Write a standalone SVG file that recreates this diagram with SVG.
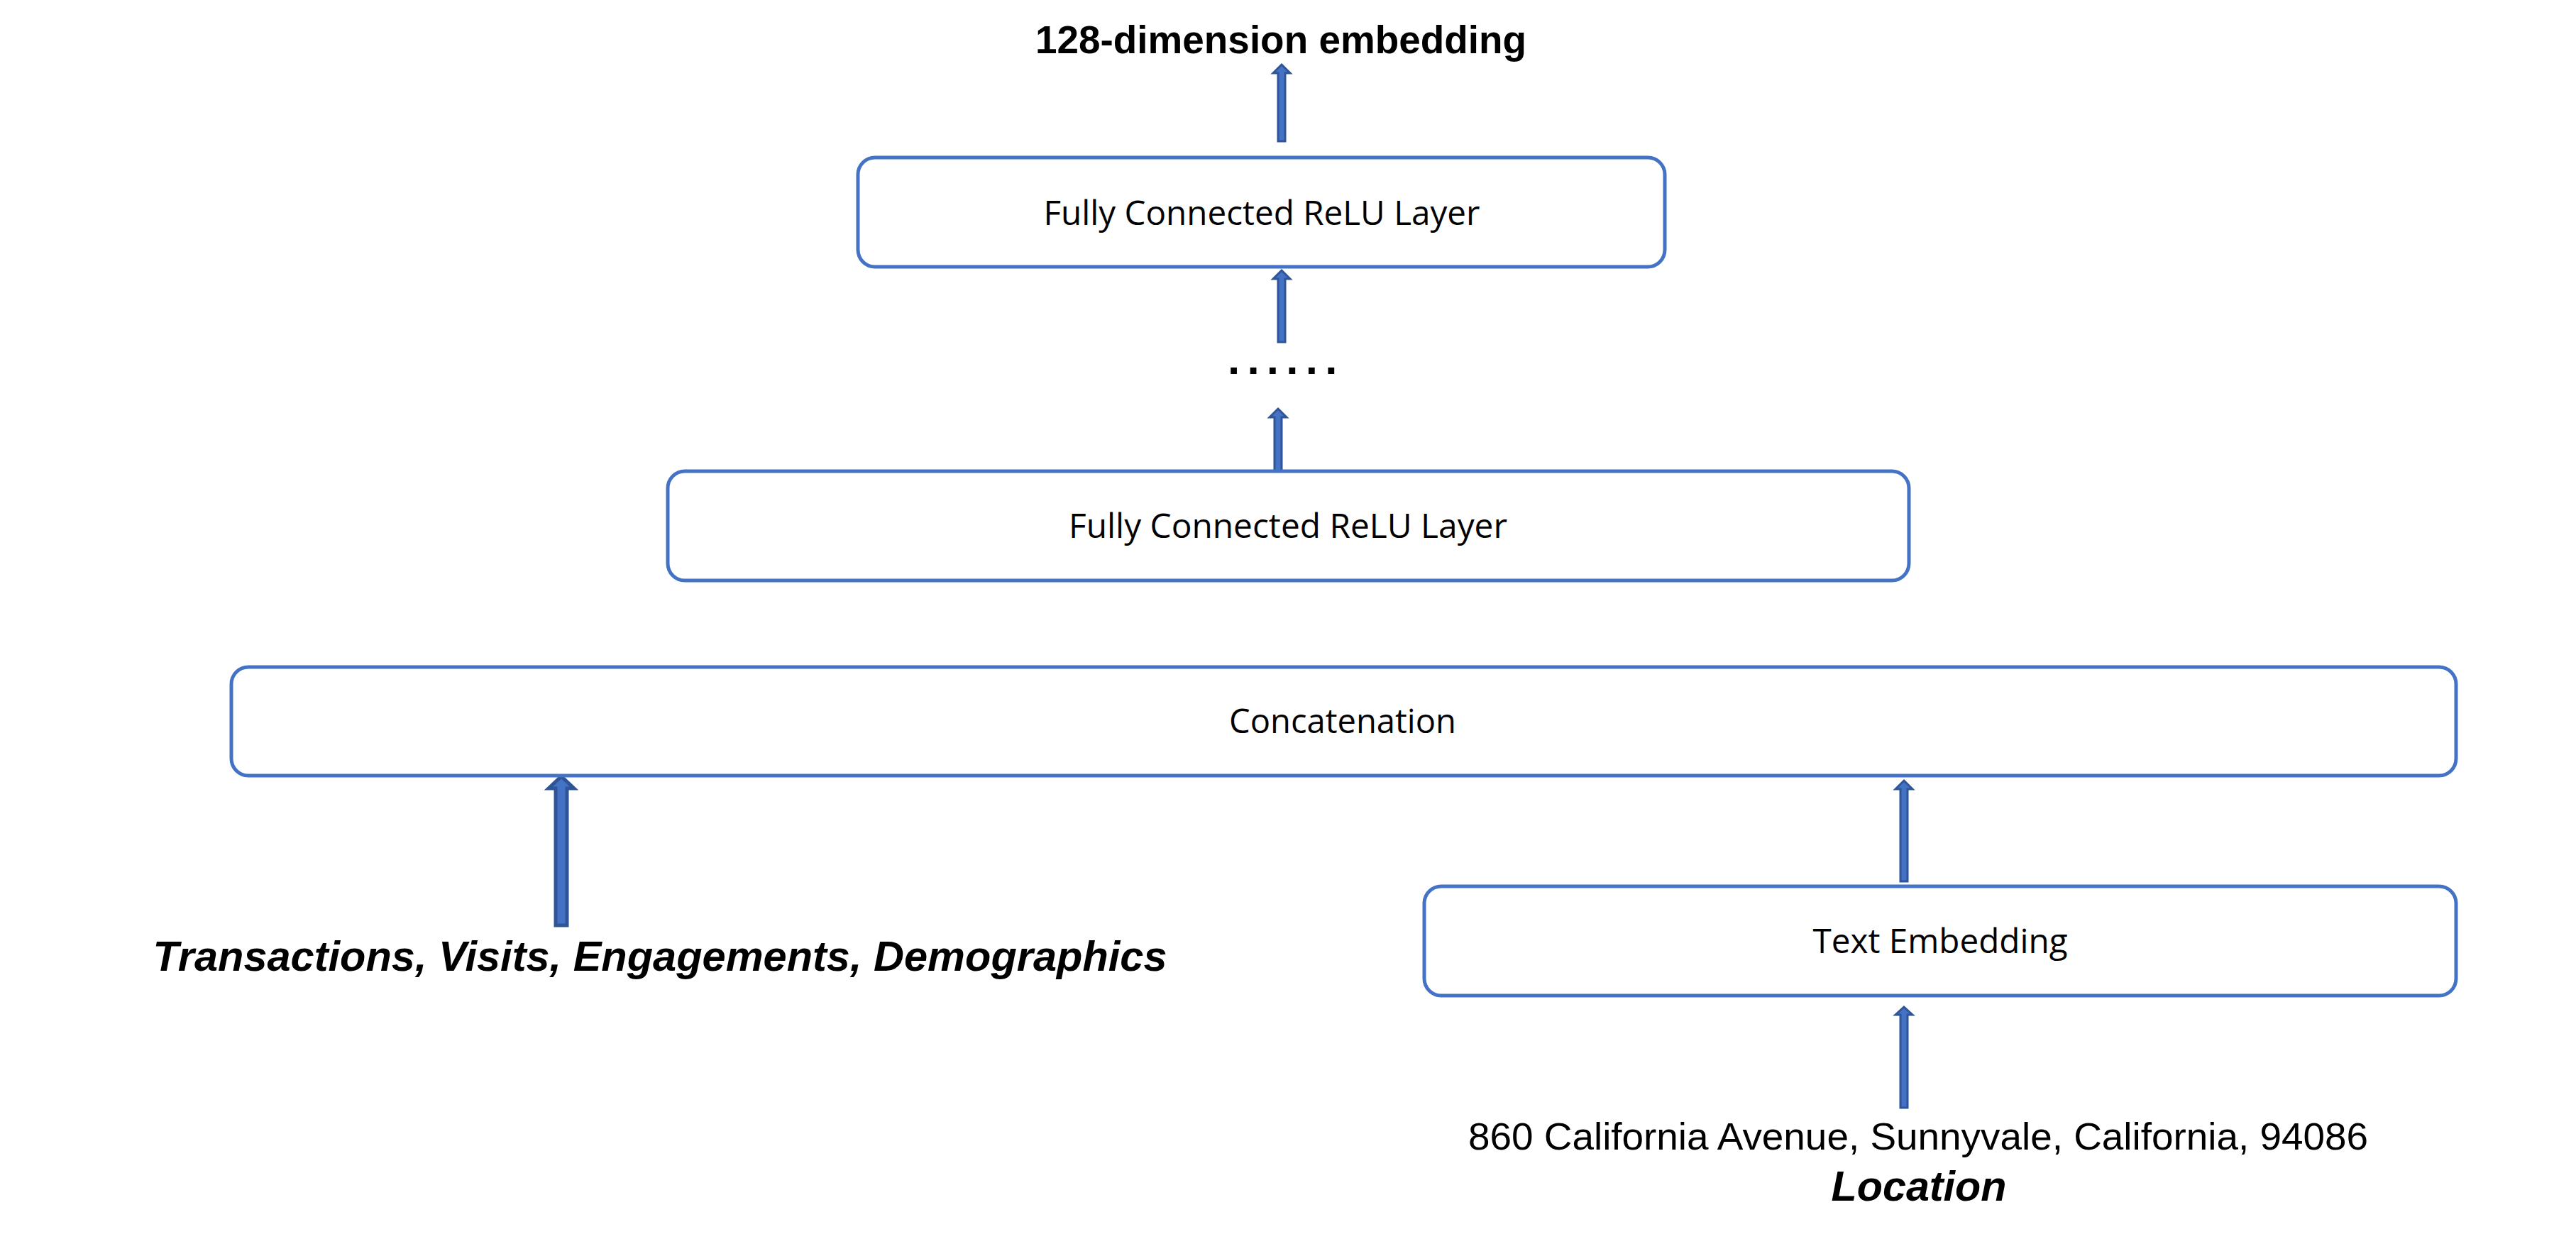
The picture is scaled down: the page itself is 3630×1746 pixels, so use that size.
<svg xmlns="http://www.w3.org/2000/svg" width="3630" height="1746" viewBox="0 0 3630 1746">
<style>
.box{fill:#fff;stroke:#4472C4;stroke-width:5}
.lbl{font-family:"Open Sans","Noto Sans","Liberation Sans",sans-serif;font-size:48px;fill:#000;text-anchor:middle}
.arr{fill:#4472C4;stroke:#2F5597;stroke-width:3;stroke-linejoin:miter}
.arrw{fill:#4472C4;stroke:#2F5597;stroke-width:5;stroke-linejoin:miter}
.ar{font-family:"Liberation Sans",Arial,sans-serif;fill:#000}
</style>
<rect width="3630" height="1746" fill="#fff"/>
<g id="connectors">
<polygon class="arr" points="1806,91 1818,103 1811,103 1811,199 1801,199 1801,103 1794,103"/>
<polygon class="arr" points="1806,381 1818,393 1811,393 1811,482 1801,482 1801,393 1794,393"/>
<polygon class="arr" points="1801,576 1813,588 1806,588 1806,671 1796,671 1796,588 1789,588"/>
<polygon class="arr" points="2683,1100 2695,1112 2688,1112 2688,1242 2678,1242 2678,1112 2671,1112"/>
<polygon class="arr" points="2683,1419 2695,1430 2688,1430 2688,1561 2678,1561 2678,1430 2671,1430"/>
<polygon class="arrw" points="791,1094 809,1111 799,1111 799,1304 783,1304 783,1111 773,1111"/>
</g>
<g id="output-label">
<text class="ar" x="1805" y="75" font-size="56" font-weight="bold" text-anchor="middle" textLength="692" lengthAdjust="spacingAndGlyphs">128-dimension embedding</text>
</g>
<g id="fc-top">
<rect class="box" x="1209" y="222" width="1137" height="154" rx="24"/>
<text class="lbl" x="1778" y="317" textLength="615" lengthAdjust="spacingAndGlyphs">Fully Connected ReLU Layer</text>
</g>
<g id="ellipsis">
<text class="ar" x="1730" y="527" font-size="62" font-weight="bold" letter-spacing="10.2">......</text>
</g>
<g id="fc-bottom">
<rect class="box" x="941" y="664" width="1749" height="154" rx="24"/>
<text class="lbl" x="1815" y="758" textLength="618" lengthAdjust="spacingAndGlyphs">Fully Connected ReLU Layer</text>
</g>
<g id="concatenation">
<rect class="box" x="326" y="940" width="3135" height="153" rx="24"/>
<text class="lbl" x="1892" y="1033" textLength="320" lengthAdjust="spacingAndGlyphs">Concatenation</text>
</g>
<g id="text-embedding">
<rect class="box" x="2007" y="1249" width="1454" height="154" rx="24"/>
<text class="lbl" x="2734" y="1343" textLength="359" lengthAdjust="spacingAndGlyphs">Text Embedding</text>
</g>
<g id="features-label">
<text class="ar" x="930" y="1368" font-size="59" font-weight="bold" font-style="italic" text-anchor="middle" textLength="1429" lengthAdjust="spacingAndGlyphs">Transactions, Visits, Engagements, Demographics</text>
</g>
<g id="location-label">
<text class="ar" x="2703" y="1620" font-size="54" text-anchor="middle" textLength="1268" lengthAdjust="spacingAndGlyphs">860 California Avenue, Sunnyvale, California, 94086</text>
<text class="ar" x="2704" y="1692" font-size="59" font-weight="bold" font-style="italic" text-anchor="middle" textLength="247" lengthAdjust="spacingAndGlyphs">Location</text>
</g>
</svg>
